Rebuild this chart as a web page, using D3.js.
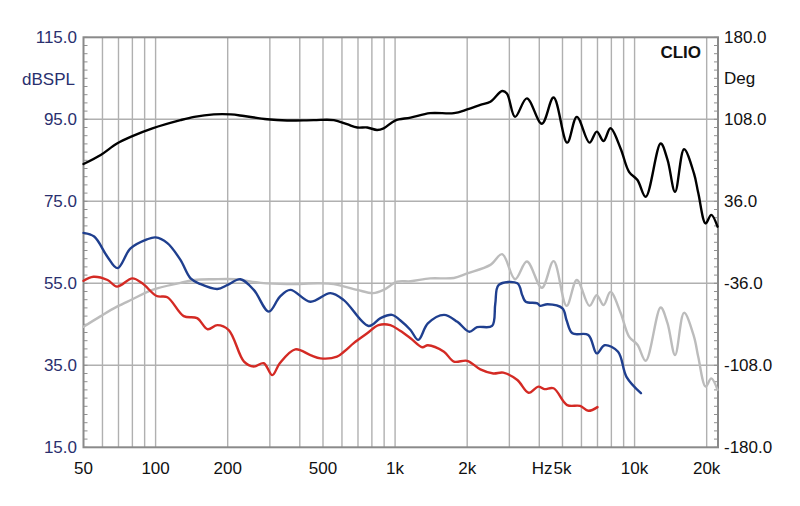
<!DOCTYPE html>
<html><head><meta charset="utf-8">
<script src="https://cdn.jsdelivr.net/npm/d3@7"></script>
<style>body{margin:0;background:#fff}svg{display:block}</style>
</head><body>
<script>
// ---- data ----
const xTickLabels = [[50,"50"],[100,"100"],[200,"200"],[500,"500"],[1000,"1k"],[2000,"2k"],[5000,"5k"],[10000,"10k"],[20000,"20k"]];
const leftTicks = [15,35,55,75,95,115];
const rightTicks = [-180,-108,-36,36,108,180];

const blackFreq = [50,59,69,80,97,127,145,175,206,234,292,354,457,555,630,695,765,841,896,1000,1160,1400,1760,2000,2270,2500,2800,2930,3170,3550,4100,4590,5230,5740,6480,6950,7420,7930,8740,9480,10280,11130,12850,13730,14760,16090,17700,18450,19800,20900,22200];
const blackDb   = [84.1,86.3,89.1,90.9,92.8,94.8,95.6,96.2,96.2,95.8,95.0,94.7,94.8,94.8,93.8,93.0,93.0,92.4,92.8,94.7,95.4,96.5,96.5,97.4,98.5,99.3,101.9,101.3,95.6,100.1,93.9,100.3,89.3,95.6,89.3,92.0,89.7,92.8,87.9,82.2,80.2,76.1,89.1,85.1,77.3,87.7,81.8,77.0,69.6,71.7,68.8];

const grayFreq = [50,59,69,80,97,127,145,175,215,275,354,480,555,695,810,896,1020,1160,1400,1760,2000,2500,2800,3170,3550,4100,4590,5200,5740,6480,6950,7420,7930,8740,9480,10280,11130,12850,13730,14760,16090,17700,18450,19800,20900,22200];
const grayDb   = [44.4,47.0,49.3,51.1,53.4,55.1,55.8,56.0,56.0,55.1,54.8,55.0,54.8,53.4,52.6,53.4,55.4,55.5,56.2,56.3,57.4,59.5,62.1,56.0,60.3,53.9,60.4,49.5,55.8,49.5,52.1,49.7,52.9,47.8,42.0,40.0,36.1,49.1,45.2,37.5,47.8,42.0,37.0,29.8,31.8,29.0];

const blueFreq = [50,55.4,62.9,69.3,78.6,92,100,112,127,140,154,181,200,226,257,297,330,365,443,537,611,775,869,970,1050,1160,1250,1370,1600,1820,2040,2200,2540,2620,2710,3240,3400,3510,3930,4030,4330,5000,5200,5500,6410,6950,7500,8530,9250,10630];
const blueDb   = [67.3,66.4,61.5,58.7,63.5,65.7,66.2,64.8,60.7,56.2,54.8,53.6,54.6,56.0,53.4,48.1,51.7,53.4,50.5,52.6,50.9,44.6,46.5,47.3,46.0,43.6,41.2,45.2,47.3,45.6,43.2,44.3,44.6,50.0,54.6,55.0,52.0,50.5,50.1,49.5,49.9,48.9,46.0,42.8,42.4,37.9,39.9,38.3,32.2,28.2];

const redFreq = [50,55,63,69,80,88,101,112,131,149,165,181,202,234,257,283,307,330,383,443,488,572,611,672,765,853,955,1050,1160,1300,1370,1600,1760,2000,2270,2570,2830,3240,3610,3960,4200,4590,5230,5920,6410,7000];
const redDb   = [55.6,56.6,55.8,54.2,56.2,55.0,51.9,51.6,47.0,46.5,43.8,44.8,43.6,35.9,34.7,35.5,32.6,35.5,38.9,37.5,36.7,37.1,38.3,40.4,42.8,44.8,44.8,43.4,41.6,39.4,39.9,38.3,35.9,36.1,34.0,33.0,33.2,31.4,28.3,29.8,29.2,29.4,25.3,25.1,23.9,24.8];

// ---- chart ----
const W = 800, H = 506;
const L = 83.5, R = 718, T = 37.3, B = 447.3;
const FS = 17;
const svg = d3.select("body").append("svg").attr("width", W).attr("height", H)
  .style("font-family", "'Liberation Sans', Arial, sans-serif");

const x = d3.scaleLog().domain([50, 22300]).range([L, R]);
const y = d3.scaleLinear().domain([15, 115]).range([B, T]);
const yR = d3.scaleLinear().domain([-180, 180]).range([B, T]);

// vertical grid (full log grid)
const vgrid = [];
for (const dec of [10,100,1000,10000]) for (let m = 1; m <= 9; m++) { const f = m*dec; if (f > 50 && f < 22300) vgrid.push(f); }
svg.append("g").selectAll("line").data(vgrid).join("line")
  .attr("x1", d => x(d)).attr("x2", d => x(d)).attr("y1", T).attr("y2", B)
  .attr("stroke", "#b0b0b0").attr("stroke-width", 1.4);
// horizontal grid
svg.append("g").selectAll("line").data(leftTicks.slice(1, -1)).join("line")
  .attr("x1", L).attr("x2", R).attr("y1", d => y(d)).attr("y2", d => y(d))
  .attr("stroke", "#b0b0b0").attr("stroke-width", 1.4);

// minor ticks, inward
const minorL = d3.range(15, 115.01, 2);
svg.append("g").selectAll("line").data(minorL).join("line")
  .attr("x1", L).attr("x2", L + 4).attr("y1", d => y(d)).attr("y2", d => y(d))
  .attr("stroke", "#909090").attr("stroke-width", 1);
const minorR = d3.range(-180, 180.01, 7.2);
svg.append("g").selectAll("line").data(minorR).join("line")
  .attr("x1", R - 4).attr("x2", R).attr("y1", d => yR(d)).attr("y2", d => yR(d))
  .attr("stroke", "#909090").attr("stroke-width", 1);

// frame
svg.append("rect").attr("x", L).attr("y", T).attr("width", R - L).attr("height", B - T)
  .attr("fill", "none").attr("stroke", "#8a8a8a").attr("stroke-width", 2);

// curves
const line = d3.line().x(d => x(d[0])).y(d => y(d[1])).curve(d3.curveCatmullRom.alpha(0.5));
function draw(fr, db, color) {
  svg.append("path").datum(d3.zip(fr, db)).attr("d", line)
    .attr("fill", "none").attr("stroke", color).attr("stroke-width", 2.4)
    .attr("stroke-linejoin", "round").attr("stroke-linecap", "round");
}
draw(grayFreq, grayDb, "#bcbcbc");
draw(redFreq, redDb, "#d42a24");
draw(blueFreq, blueDb, "#1f3f8f");
draw(blackFreq, blackDb, "#000000");

// left tick labels
svg.append("g").selectAll("text").data(leftTicks).join("text")
  .attr("x", 77).attr("y", d => y(d)).attr("dy", "0.36em").attr("text-anchor", "end")
  .attr("font-size", FS).attr("fill", "#2a2f6e").text(d => d.toFixed(1));
svg.append("text").attr("x", 75).attr("y", 79).attr("dy", "0.36em").attr("text-anchor", "end")
  .attr("font-size", FS).attr("fill", "#2a2f6e").text("dBSPL");

// right tick labels
svg.append("g").selectAll("text").data(rightTicks).join("text")
  .attr("x", 724).attr("y", d => yR(d)).attr("dy", "0.36em").attr("text-anchor", "start")
  .attr("font-size", FS).attr("fill", "#111").text(d => d.toFixed(1));
svg.append("text").attr("x", 724).attr("y", 78).attr("dy", "0.36em")
  .attr("font-size", FS).attr("fill", "#111").text("Deg");

// bottom labels
svg.append("g").selectAll("text").data(xTickLabels).join("text")
  .attr("x", d => x(d[0])).attr("y", 468).attr("dy", "0.36em").attr("text-anchor", "middle")
  .attr("font-size", FS).attr("fill", "#111").text(d => d[1]);
svg.append("text").attr("x", x(5000) - 10).attr("y", 468).attr("dy", "0.36em").attr("text-anchor", "end")
  .attr("font-size", FS).attr("fill", "#111").text("Hz");

// CLIO
svg.append("text").attr("x", 701).attr("y", 52).attr("dy", "0.36em").attr("text-anchor", "end")
  .attr("font-size", FS).attr("font-weight", "bold").attr("fill", "#111").text("CLIO");
</script>
</body></html>
